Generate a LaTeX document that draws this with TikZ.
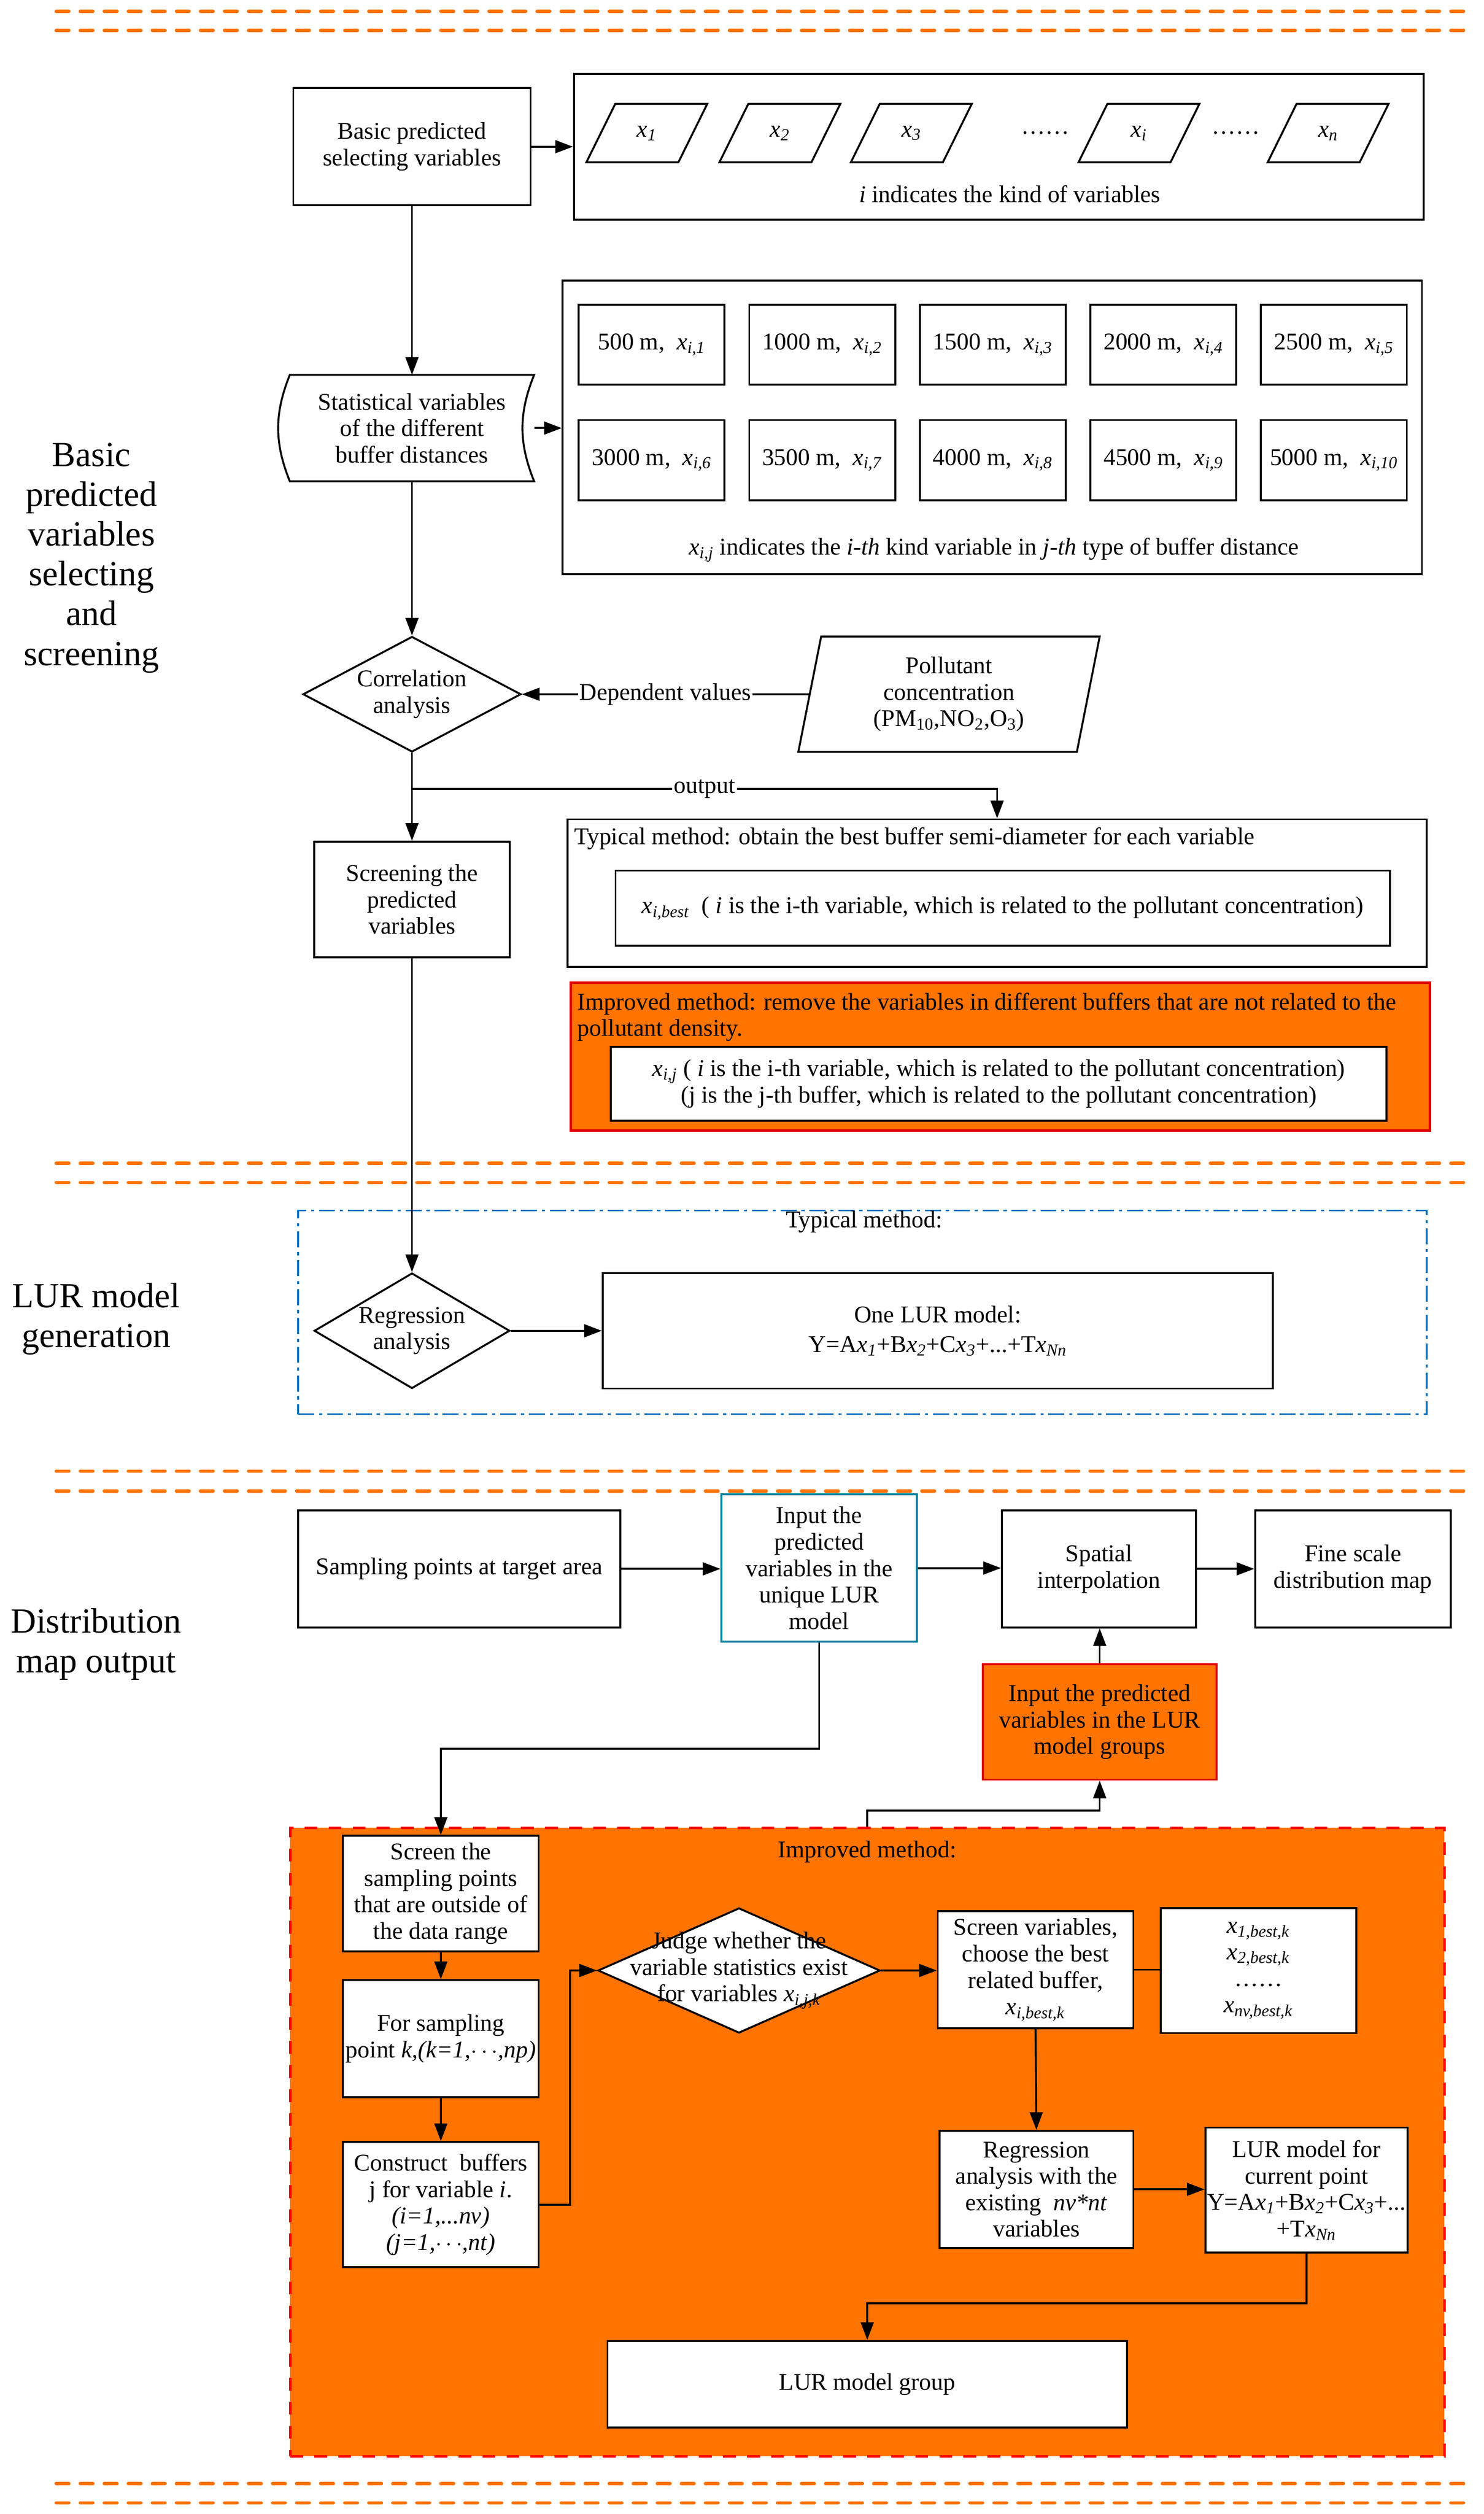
\documentclass[tikz,border=0pt]{standalone}
\usepackage{fontspec}
\setmainfont{Liberation Serif}
\usetikzlibrary{arrows.meta,shapes.geometric}
\definecolor{orfill}{RGB}{255,115,0}
\definecolor{redline}{RGB}{225,0,0}
\definecolor{tealline}{RGB}{0,131,155}
\definecolor{blueline}{RGB}{0,112,192}
\newcommand{\xv}[1]{\textit{x}\textsubscript{\textit{#1}}}
\begin{document}
\begin{tikzpicture}[x=1pt,y=-1pt,
  font=\fontsize{15}{16.5}\selectfont,
  box/.style={draw,line width=1.2pt,fill=white,align=center,inner sep=1pt},
  para/.style={draw,line width=1.2pt,fill=white,trapezium,trapezium stretches body=true,inner sep=0pt,align=center},
  decision/.style={draw,line width=1.2pt,fill=white,diamond,inner sep=0pt},
  arr/.style={line width=1.2pt,-{Triangle[length=11pt,width=8pt]}},
  link/.style={line width=1.2pt},
  sep/.style={draw=orfill,line width=2pt,dash pattern=on 8pt off 7pt,line cap=round},
  sect/.style={align=center,font=\fontsize{22}{24.8}\selectfont}]
\useasboundingbox (0,0) rectangle (925.5,1568);

\foreach \sy in {7,19,725.5,737.5,917.5,930,1549,1561}
  \draw[sep] (35,\sy) -- (918,\sy);

\node[sect] (secta) at (57,348) {Basic\\predicted\\variables\\selecting\\and\\screening};
\node[sect] (sectb) at (60,822.5) {LUR model\\generation};
\node[sect] (sectc) at (60,1025.5) {Distribution\\map output};

% basic variables and buffers
\node[box,minimum width=148,minimum height=73] (basic) at (257,91.5) {Basic predicted\\selecting variables};
\node[box,minimum width=530,minimum height=91] (kinds) at (623,91.5) {};
\foreach \px/\ps [count=\pk] in {403.5/1,486.5/2,568.5/3,710.5/i,828.5/n} {
  \node[minimum width=57,minimum height=36,inner sep=0pt] (kind\pk) at (\px,83) {\xv{\ps}};
  \draw[link] ([xshift=-9]kind\pk.south west) -- ([xshift=-9]kind\pk.south east)
    -- ([xshift=9]kind\pk.north east) -- ([xshift=9]kind\pk.north west) -- cycle;
}
\node (dotsa) at (652,83) {……};
\node (dotsb) at (771,83) {……};
\node (kindlbl) at (630,121) {\textit{i} indicates the kind of variables};
\draw[arr] (basic.east) -- (basic.east -| kinds.west);

\node[align=center,inner sep=0pt,minimum width=152,minimum height=66] (stat) at (257,267) {Statistical variables\\of the different\\buffer distances};
\draw[link] (stat.north west) to[bend right=22] (stat.south west) -- (stat.south east)
  to[bend left=22] (stat.north east) -- cycle;
\draw[arr] (basic.south) -- (stat.north);

\node[box,minimum width=536,minimum height=183] (bufbox) at (619,266.5) {};
\foreach \dist [count=\bn] in {500,1000,...,5000} {
  \pgfmathsetmacro\bx{406.5+106.4*mod(\bn-1,5)}
  \pgfmathsetmacro\by{215+72*int((\bn-1)/5)}
  \node[box,minimum width=91,minimum height=50] (buf\bn) at (\bx,\by) {\dist\ m,\ \ \xv{i,\bn}};
}
\node (buflbl) at (620,343) {\xv{i,j} indicates the \textit{i-th} kind variable in \textit{j-th} type of buffer distance};
\draw[arr] (stat.east) -- (stat.east -| bufbox.west);

% correlation
\node[decision,minimum width=136,minimum height=72,label={[align=center]center:Correlation\\analysis}] (corr) at (257,433) {};
\draw[arr] (stat.south) -- (corr.north);
\node[para,trapezium left angle=73,trapezium right angle=107,minimum width=188,minimum height=72] (pollut) at (592,433) {Pollutant\\concentration\\(PM\textsubscript{10},NO\textsubscript{2},O\textsubscript{3})};
\draw[arr] (pollut.west) -- node[fill=white,inner sep=1pt] {Dependent values} (corr.east);

\node[box,minimum width=122,minimum height=72] (screen) at (257,561) {Screening the\\predicted\\variables};
\draw[arr] (corr.south) -- (screen.north);

\node[box,minimum width=536,minimum height=92] (typical) at (622,557) {};
\node[anchor=west,inner sep=2pt] (typlbl) at (356,523) {Typical method: obtain the best buffer semi-diameter for each variable};
\node[box,minimum width=483,minimum height=47] (bestbox) at (625.5,566.5) {\xv{i,best}\ \ ( \textit{i} is the i-th variable, which is related to the pollutant concentration)};
\coordinate (outpt) at (257,492);
\draw[arr] (outpt) -| node[pos=0.25,fill=white,inner sep=1pt] {output} (typical.north);

\node[box,draw=redline,fill=orfill,line width=1.5pt,minimum width=536,minimum height=92] (improved) at (624,659) {};
\node[anchor=north west,align=left,inner sep=2pt] (implbl) at (358,617) {Improved method: remove the variables in different buffers that are not related to the\\pollutant density.};
\node[box,minimum width=484,minimum height=46] (ijbox) at (623,676) {\xv{i,j} ( \textit{i} is the i-th variable, which is related to the pollutant concentration)\\(j is the j-th buffer, which is related to the pollutant concentration)};

% LUR model generation
\node[draw=blueline,line width=1.2pt,dash pattern=on 10pt off 3pt on 2pt off 3pt,minimum width=704,minimum height=127] (typregion) at (538,818.5) {};
\node (typtitle) at (539,762) {Typical method:};
\node[decision,minimum width=122,minimum height=72,label={[align=center]center:Regression\\analysis}] (regr) at (257,830) {};
\draw[arr] (screen.south) -- (regr.north);
\node[box,minimum width=418,minimum height=72] (onelur) at (585,830) {One LUR model:\\[2pt]Y=A\xv{1}+B\xv{2}+C\xv{3}+...+T\xv{Nn}};
\draw[arr] (regr.east) -- (onelur.west);

% distribution map output
\node[box,minimum width=201,minimum height=73] (sampling) at (286.5,978.5) {Sampling points at target area};
\node[box,draw=tealline,minimum width=122,minimum height=92] (inputuni) at (511,978) {Input the\\predicted\\variables in the\\unique LUR\\model};
\node[box,minimum width=121,minimum height=73] (spatial) at (685.5,978.5) {Spatial\\interpolation};
\node[box,minimum width=122,minimum height=73] (finemap) at (844,978.5) {Fine scale\\distribution map};
\node[box,draw=redline,fill=orfill,minimum width=146,minimum height=72] (inputgrp) at (686,1074) {Input the predicted\\variables in the LUR\\model groups};
\draw[arr] (sampling.east) -- (sampling.east -| inputuni.west);
\draw[arr] (inputuni.east) -- (inputuni.east -| spatial.west);
\draw[arr] (spatial.east) -- (spatial.east -| finemap.west);
\draw[arr] (inputgrp.north) -- (inputgrp.north |- spatial.south);

\node[draw=red,fill=orfill,line width=1.5pt,dash pattern=on 8pt off 7pt,minimum width=720,minimum height=392] (impregion) at (541,1336) {};
\node (imptitle) at (541,1155) {Improved method:};
\node[box,minimum width=122,minimum height=72] (screenpts) at (275,1181) {Screen the\\sampling points\\that are outside of\\the data range};
\node[box,minimum width=122,minimum height=73] (forpt) at (275,1271.5) {For sampling\\point \textit{k,(k=1,}$\cdots$\textit{,np)}};
\node[box,minimum width=122,minimum height=78] (buffers) at (275,1375) {Construct~ buffers\\j for variable \textit{i}.\\\textit{(i=1,...nv)}\\\textit{(j=1,}$\cdots$\textit{,nt)}};
\node[decision,minimum width=176,minimum height=78,label={[align=center]center:Judge whether the\\variable statistics exist\\for variables \xv{i,j,k}}] (judge) at (461,1229) {};
\node[box,minimum width=122,minimum height=73] (choose) at (646,1228.5) {Screen variables,\\choose the best\\related buffer,\\\xv{i,best,k}};
\node[box,minimum width=122,minimum height=78] (bestlist) at (785,1229) {\xv{1,best,k}\\\xv{2,best,k}\\……\\\xv{nv,best,k}};
\node[box,minimum width=121,minimum height=73] (regnv) at (646.5,1365.5) {Regression\\analysis with the\\existing~ \textit{nv*nt}\\variables};
\node[box,minimum width=122,minimum height=78] (curlur) at (815,1366) {LUR model for\\current point\\Y=A\xv{1}+B\xv{2}+C\xv{3}+...\\+T\xv{Nn}};
\node[box,minimum width=324,minimum height=54] (lurgroup) at (541,1487) {LUR model group};

\draw[arr] (inputuni.south) -- ++(0,66) -| (screenpts.north);
\draw[arr] (impregion.north) -- ++(0,-10) -| (inputgrp.south);
\draw[arr] (screenpts.south) -- (forpt.north);
\draw[arr] (forpt.south) -- (buffers.north);
\draw[arr] (buffers.east) -- ++(19,0) |- (judge.west);
\draw[arr] (judge.east) -- (judge.east -| choose.west);
\draw[link] (choose.east) -- (choose.east -| bestlist.west);
\draw[arr] (choose.south) -- (regnv.north);
\draw[arr] (regnv.east) -- (regnv.east -| curlur.west);
\draw[arr] (curlur.south) -- ++(0,31) -| (lurgroup.north);
\end{tikzpicture}
\end{document}
